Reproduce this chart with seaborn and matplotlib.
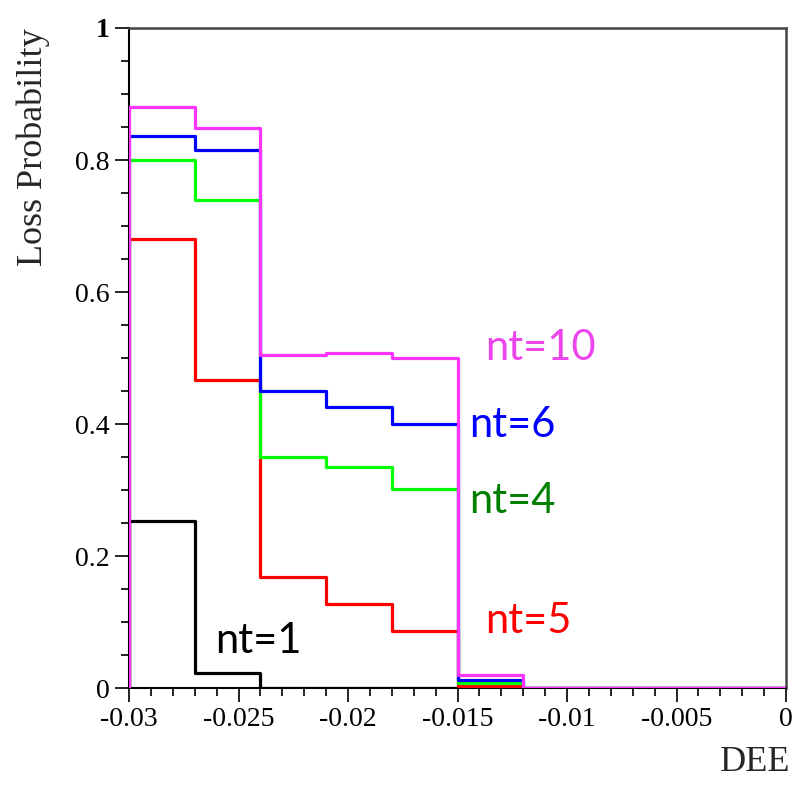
import matplotlib
matplotlib.use("Agg")
import matplotlib.pyplot as plt
import seaborn as sns
import pandas as pd
from matplotlib.ticker import MultipleLocator, FuncFormatter

sns.set_style("white")
plt.rcParams["axes.unicode_minus"] = False

# bin edges of DEE
bin_edges = [-0.030, -0.027, -0.024, -0.021, -0.018, -0.015, -0.012, -0.009, -0.006, -0.003, 0.0]

# loss probability per bin for each nt
nt1 = [0.253, 0.023, 0.0, 0.0, 0.0, 0.0, 0.0, 0.0, 0.0, 0.0]
nt5 = [0.680, 0.467, 0.168, 0.128, 0.086, 0.003, 0.0, 0.0, 0.0, 0.0]
nt4 = [0.800, 0.739, 0.350, 0.335, 0.302, 0.007, 0.0, 0.0, 0.0, 0.0]
nt6 = [0.836, 0.815, 0.450, 0.426, 0.400, 0.012, 0.0, 0.0, 0.0, 0.0]
nt10 = [0.881, 0.848, 0.505, 0.507, 0.500, 0.020, 0.0, 0.0, 0.0, 0.0]

series = [
    ("nt=1", nt1, "#000000", "#000000", (-0.02608, 0.053)),
    ("nt=5", nt5, "#ff0000", "#ff0000", (-0.01372, 0.083)),
    ("nt=4", nt4, "#00ff00", "#008000", (-0.01445, 0.265)),
    ("nt=6", nt6, "#0000ff", "#0000ff", (-0.01445, 0.380)),
    ("nt=10", nt10, "#ff33ff", "#ee44ee", (-0.01372, 0.497)),
]

fig = plt.figure(figsize=(7.92, 7.85), dpi=100)
ax = fig.add_axes([129 / 792, 1 - 688 / 785, (786 - 129) / 792, (688 - 28) / 785])

for name, vals, lc, tc, (tx, ty) in series:
    xs = [bin_edges[0]] + list(bin_edges)
    ys = [0.0] + list(vals) + [vals[-1]]
    df = pd.DataFrame({"DEE": xs, "P": ys})
    sns.lineplot(data=df, x="DEE", y="P", ax=ax, color=lc, lw=2.3,
                 drawstyle="steps-post", estimator=None, sort=False,
                 legend=False, zorder=3)
    ax.text(tx, ty, name, color=tc, fontsize=30, family=["Lato", "DejaVu Sans"],
            ha="left", va="baseline", zorder=4)

ax.set_xlim(-0.03, 0.0)
ax.set_ylim(0, 1)

ax.xaxis.set_major_locator(MultipleLocator(0.005))
ax.xaxis.set_minor_locator(MultipleLocator(0.001))
ax.yaxis.set_major_locator(MultipleLocator(0.2))
ax.yaxis.set_minor_locator(MultipleLocator(0.05))

def fmt(v, pos):
    s = ("%.3f" % v).rstrip("0").rstrip(".")
    if s in ("-0", ""):
        s = "0"
    return s

ax.xaxis.set_major_formatter(FuncFormatter(fmt))
ax.yaxis.set_major_formatter(FuncFormatter(fmt))

ax.tick_params(axis="both", which="both", left=True, bottom=True, top=False, right=False,
               direction="out", colors="black")
ax.tick_params(axis="both", which="major", length=10, width=1.2, labelsize=20, pad=4)
ax.tick_params(axis="both", which="minor", length=6, width=1.2)
fig.canvas.draw()
for lab in ax.get_xticklabels() + ax.get_yticklabels():
    lab.set_family(["Liberation Serif", "DejaVu Serif"])
    if lab.get_text() == "1":
        lab.set_fontweight("bold")

for side in ["left", "bottom"]:
    ax.spines[side].set_color("black")
    ax.spines[side].set_linewidth(1.5)
for side in ["top", "right"]:
    ax.spines[side].set_color("#444444")
    ax.spines[side].set_linewidth(1.8)

ax.set_xlabel("")
ax.set_ylabel("Loss Probability", fontsize=26, family=["Liberation Serif", "DejaVu Serif"],
              loc="top", labelpad=18)
fig.text(790 / 792, 0.008, "DEE", fontsize=26,
         family=["Liberation Serif", "DejaVu Serif"], ha="right", va="bottom")

fig.savefig("out.png", dpi=100)
